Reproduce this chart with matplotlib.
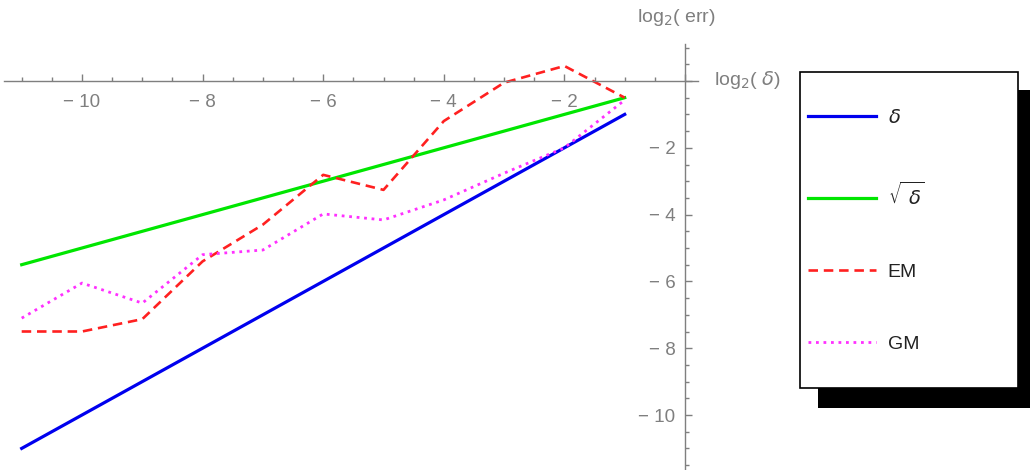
import matplotlib
matplotlib.use("Agg")
import matplotlib.pyplot as plt
from matplotlib.patches import Rectangle
from matplotlib.ticker import MultipleLocator, FuncFormatter

# data (log2 scale)
log_delta = [-11, -10, -9, -8, -7, -6, -5, -4, -3, -2, -1]
err_delta = [-11, -10, -9, -8, -7, -6, -5, -4, -3, -2, -1]
err_sqrt = [-5.5, -5.0, -4.5, -4.0, -3.5, -3.0, -2.5, -2.0, -1.5, -1.0, -0.5]
err_em = [-7.5, -7.5, -7.13, -5.4, -4.3, -2.81, -3.26, -1.2, -0.05, 0.45, -0.5]
err_gm = [-7.1, -6.05, -6.65, -5.2, -5.06, -3.98, -4.16, -3.56, -2.76, -2.0, -0.57]

grey = "#7f7f7f"
plt.rcParams['font.family'] = ['Liberation Sans', 'DejaVu Sans']
plt.rcParams['mathtext.fontset'] = 'dejavusans'

W, H = 1030, 470
fig = plt.figure(figsize=(W / 100, H / 100), dpi=100)

# axes placed in pixel terms, origin at (685, 81)
x0, x1 = -11.3, 0.22
y0, y1 = -11.65, 1.1
sx, sy = 60.3, 33.4
left_px = 685 + x0 * sx
top_px = 81 - y1 * sy
ax = fig.add_axes([left_px / W, 1 - (top_px + (y1 - y0) * sy) / H,
                   (x1 - x0) * sx / W, (y1 - y0) * sy / H])
ax.set_xlim(x0, x1)
ax.set_ylim(y0, y1)

ax.plot(log_delta, err_delta, color="#0000ee", lw=2.3, label=r"$\delta$")
ax.plot(log_delta, err_sqrt, color="#00e600", lw=2.3, label=r"$\sqrt{\ \delta}$")
ax.plot(log_delta, err_em, color="#ff2020", lw=1.9, ls=(0, (3.6, 2.2)), label="EM")
ax.plot(log_delta, err_gm, color="#ff30ff", lw=2.0, ls=(0, (1, 1.7)), label="GM")

# Mathematica-style axes through the origin
for s in ["top", "right"]:
    ax.spines[s].set_visible(False)
ax.spines["left"].set_position(("data", 0))
ax.spines["bottom"].set_position(("data", 0))
for s in ["left", "bottom"]:
    ax.spines[s].set_color(grey)
    ax.spines[s].set_linewidth(1.0)
ax.patch.set_visible(False)

def fmt(v, pos):
    if abs(v) < 1e-9:
        return ""
    return "\u2212 %d" % abs(round(v)) if v < 0 else "%d" % round(v)

ax.xaxis.set_major_locator(MultipleLocator(2))
ax.xaxis.set_minor_locator(MultipleLocator(0.5))
ax.yaxis.set_major_locator(MultipleLocator(2))
ax.yaxis.set_minor_locator(MultipleLocator(0.5))
ax.xaxis.set_major_formatter(FuncFormatter(fmt))
ax.yaxis.set_major_formatter(FuncFormatter(fmt))
ax.tick_params(axis="x", which="major", direction="in", length=5, width=1, color=grey,
               labelcolor=grey, labelsize=13.5, pad=9)
ax.tick_params(axis="y", which="major", direction="in", length=5, width=1, color=grey,
               labelcolor=grey, labelsize=13.5, pad=7)
ax.tick_params(which="minor", direction="in", length=3, width=1, color=grey)

fig.text(637 / W, 1 - 18 / H, r"log$_2$( err)", color=grey, fontsize=14,
         ha="left", va="center")
fig.text(714 / W, 1 - 80 / H, r"log$_2$( $\delta$)", color=grey, fontsize=14,
         ha="left", va="center")

# legend box with a hard black drop shadow
fig.patches.append(Rectangle((818 / W, 1 - 408 / H), 230 / W, 318 / H,
                             transform=fig.transFigure, facecolor="black",
                             edgecolor="none", zorder=1))
fig.patches.append(Rectangle((800 / W, 1 - 388 / H), 218 / W, 316 / H,
                             transform=fig.transFigure, facecolor="white",
                             edgecolor="black", lw=1.2, zorder=2))
handles, labels = ax.get_legend_handles_labels()
leg = fig.legend(handles, labels, loc="upper left",
                 bbox_to_anchor=(808 / W, 1 - 109 / H), bbox_transform=fig.transFigure,
                 frameon=False, fontsize=14, handlelength=3.5, handletextpad=0.6,
                 labelspacing=2.8, borderpad=0, borderaxespad=0)
leg.set_zorder(3)
for t in leg.get_texts():
    t.set_color("#222222")

fig.savefig("out.png", dpi=100)
